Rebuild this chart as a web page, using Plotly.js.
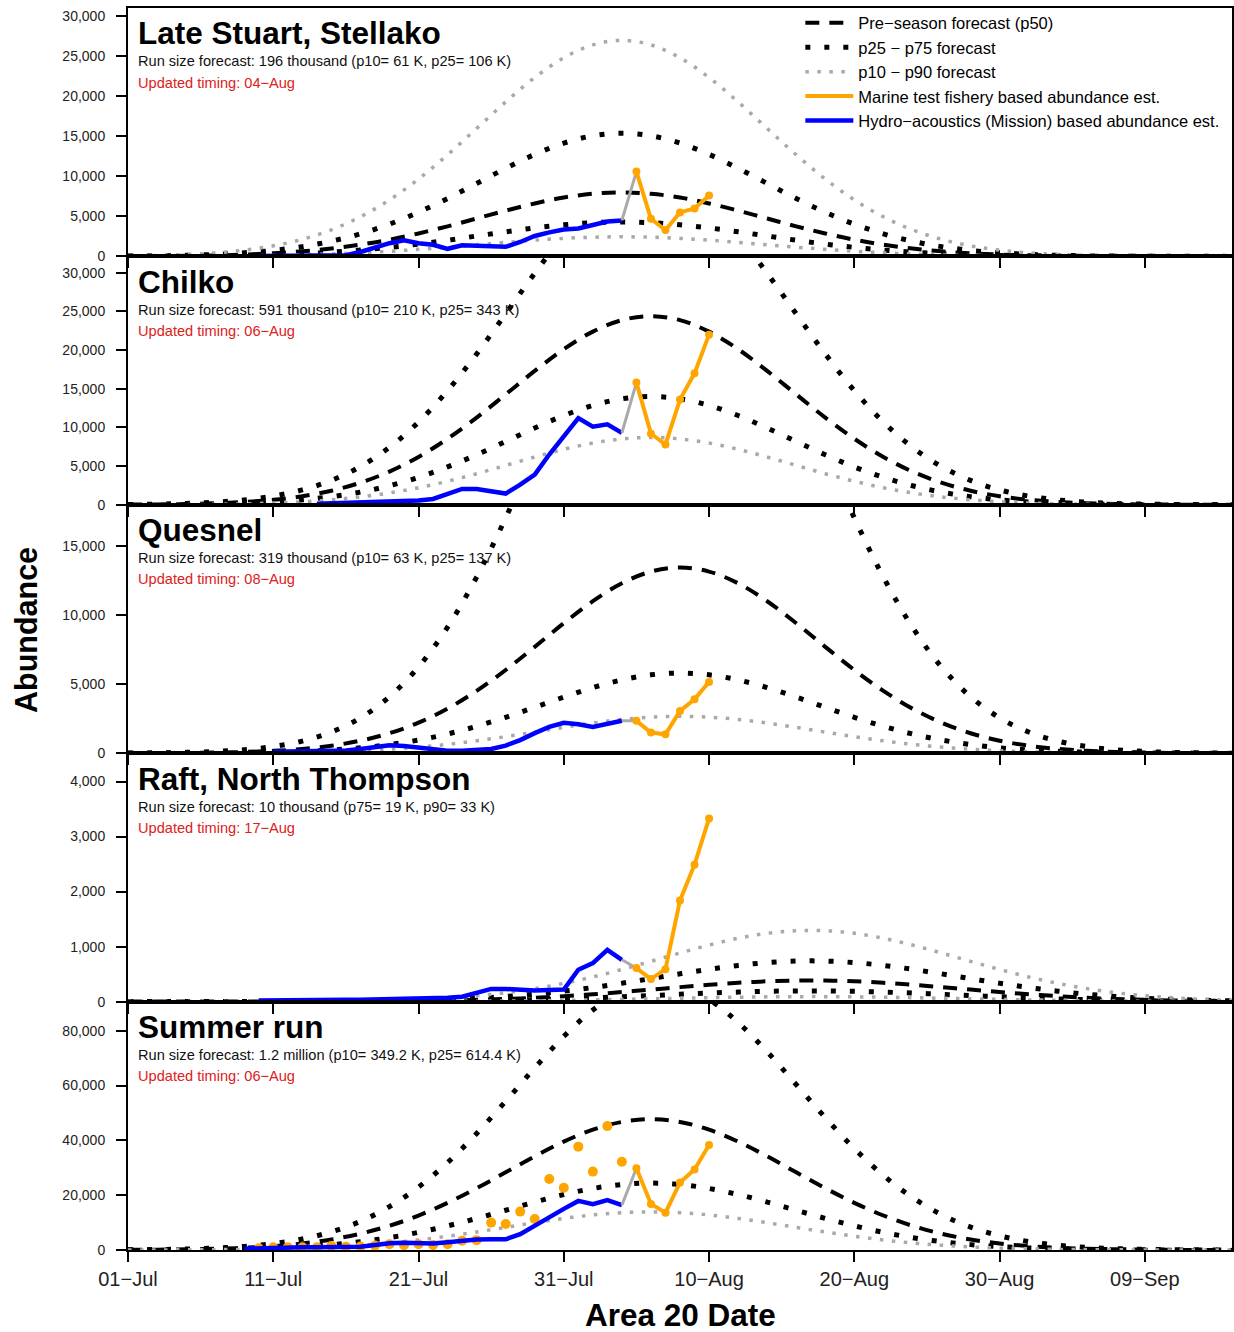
<!DOCTYPE html>
<html><head><meta charset="utf-8">
<script src="https://cdn.plot.ly/plotly-3.0.1.min.js"></script>
<style>html,body{margin:0;padding:0;background:#fff}</style>
</head><body><div id="chart" style="width:1234px;height:1332px"></div>
<script>
// ---------- text ----------
const panelNames = ["Late Stuart, Stellako", "Chilko", "Quesnel", "Raft, North Thompson", "Summer run"];
const runSizeTexts = [
  "Run size forecast: 196 thousand (p10= 61 K, p25= 106 K)",
  "Run size forecast: 591 thousand (p10= 210 K, p25= 343 K)",
  "Run size forecast: 319 thousand (p10= 63 K, p25= 137 K)",
  "Run size forecast: 10 thousand (p75= 19 K, p90= 33 K)",
  "Run size forecast: 1.2 million (p10= 349.2 K, p25= 614.4 K)"
];
const timingTexts = ["Updated timing: 04\u2212Aug", "Updated timing: 06\u2212Aug", "Updated timing: 08\u2212Aug", "Updated timing: 17\u2212Aug", "Updated timing: 06\u2212Aug"];
const legendNames = ["Pre\u2212season forecast (p50)", "p25 \u2212 p75 forecast", "p10 \u2212 p90 forecast", "Marine test fishery based abundance est.", "Hydro\u2212acoustics (Mission) based abundance est."];
const tickDays = [0, 10, 20, 30, 40, 50, 60, 70];
const tickLabels = ["01\u2212Jul", "11\u2212Jul", "21\u2212Jul", "31\u2212Jul", "10\u2212Aug", "20\u2212Aug", "30\u2212Aug", "09\u2212Sep"];

// ---------- forecast days (days after 01-Jul) ----------
const fcDays = [0,2,4,6,8,10,12,14,16,18,20,22,24,26,28,30,32,34,36,38,40,42,44,46,48,50,52,54,56,58,60,62,64,66,68,70,72,74,76];

// Late Stuart, Stellako
const lsP10 = [6,11,22,40,71,120,194,300,450,640,880,1150,1450,1750,2030,2250,2400,2450,2400,2250,2030,1750,1450,1150,880,640,450,300,194,120,71,40,22,11,6,3,1,1,0];
const lsP25 = [10,20,40,70,125,210,340,530,790,1125,1540,2020,2550,3075,3560,3950,4210,4300,4210,3950,3560,3075,2550,2020,1540,1125,790,530,340,210,125,70,40,20,10,5,2,1,0];
const lsP50 = [20,40,70,130,230,390,630,980,1470,2090,2870,3760,4740,5720,6620,7360,7830,8000,7830,7360,6620,5720,4740,3760,2870,2090,1470,980,630,390,230,130,70,40,20,10,5,2,1];
const lsP75 = [40,70,140,250,450,750,1220,1900,2820,4030,5520,7240,9120,11010,12750,14160,15080,15400,15080,14160,12750,11010,9120,7240,5520,4030,2820,1900,1220,750,450,250,140,70,40,20,10,5,2];
const lsP90 = [60,130,240,440,780,1320,2140,3320,4950,7060,9670,12700,15990,19310,22360,24830,26440,27000,26440,24830,22360,19310,15990,12700,9670,7060,4950,3320,2140,1320,780,440,240,130,60,30,14,6,3];
const lsBlueDays = [9,10,11,12,13,14,15,16,17,18,19,20,21,22,23,24,25,26,27,28,29,30,31,32,33,34];
const lsBlue = [50,50,60,60,70,80,150,550,1100,1650,2000,1650,1450,950,1400,1300,1200,1200,1800,2550,3000,3350,3500,3900,4350,4500];
const lsMarineDays = [35,36,37,38,39,40];
const lsMarine = [10600,4700,3300,5500,6000,7600];

// Chilko
const chP10 = [8,18,36,70,131,232,397,650,1020,1533,2206,3043,4021,5091,6174,7174,7985,8516,8700,8516,7985,7174,6174,5091,4021,3043,2206,1533,1020,650,397,232,131,70,36,18,8,4,2];
const chP25 = [13,29,58,113,210,374,638,1046,1641,2467,3550,4897,6471,8193,9934,11544,12849,13703,14000,13703,12849,11544,9934,8193,6471,4897,3550,2467,1641,1046,638,374,210,113,58,29,13,6,3];
const chP50 = [25,50,100,200,370,650,1110,1820,2860,4300,6190,8540,11280,14280,17310,20120,22390,23880,24400,23880,22390,20120,17310,14280,11280,8540,6190,4300,2860,1820,1110,650,370,200,100,50,25,11,5];
const chP75 = [41,86,174,339,633,1127,1924,3152,4946,7436,10702,14762,19505,24695,29945,34798,38731,41305,42200,41305,38731,34798,29945,24695,19505,14762,10702,7436,4946,3152,1924,1127,633,339,174,86,41,19,8];
const chBlueDays = [13,14,15,16,17,18,19,20,21,22,23,24,25,26,27,28,29,30,31,32,33,34];
const chBlue = [150,200,250,300,350,400,500,550,750,1400,2050,2050,1800,1450,2600,3900,6500,8900,11200,10100,10400,9300];
const chMarineDays = [35,36,37,38,39,40];
const chMarine = [15800,9200,7800,13600,17000,22000];

// Quesnel
const quP10 = [1,2,4,9,18,34,62,108,180,287,439,641,896,1196,1529,1869,2185,2442,2611,2670,2611,2442,2185,1869,1529,1196,896,641,439,287,180,108,62,34,18,9,4,2,1];
const quP25 = [2,4,9,19,38,73,134,234,390,624,953,1392,1945,2599,3322,4059,4746,5305,5672,5800,5672,5305,4746,4059,3322,2599,1945,1392,953,624,390,234,134,73,38,19,9,4,2];
const quP50 = [4,10,21,45,89,170,310,542,905,1446,2208,3226,4508,6022,7697,9407,10997,12294,13143,13440,13143,12294,10997,9407,7697,6022,4508,3226,2208,1446,905,542,310,170,89,45,21,10,4];
const quP75 = [12,28,60,126,252,481,878,1531,2557,4089,6243,9120,12745,17028,21763,26596,31092,34759,37160,38000,37160,34759,31092,26596,21763,17028,12745,9120,6243,4089,2557,1531,878,481,252,126,60,28,12];
const quBlueDays = [10,11,12,13,14,15,16,17,18,19,20,21,22,23,24,25,26,27,28,29,30,31,32,33,34];
const quBlue = [100,110,120,130,150,200,300,450,580,520,380,250,180,180,220,300,550,950,1450,1900,2200,2100,1900,2150,2350];
const quMarineDays = [35,36,37,38,39,40];
const quMarine = [2340,1500,1370,3060,3900,5160];

// Raft, North Thompson
const raP10 = [0,0,0,0,0,0,0,0,1,2,3,5,7,11,16,23,31,41,51,61,71,80,86,90,90,86,80,71,61,51,41,31,23,16,11,7,5,3,2];
const raP25 = [0,0,0,0,0,0,0,1,2,4,6,10,16,24,36,50,68,88,110,133,155,173,187,194,194,187,173,155,133,110,88,68,50,36,24,16,10,6,4];
const raP50 = [0,0,0,0,0,0,1,2,4,7,12,20,32,48,70,99,133,174,218,263,306,342,369,383,383,369,342,306,263,218,174,133,99,70,48,32,20,12,7];
const raP75 = [0,0,0,0,1,1,2,4,8,14,24,39,61,93,135,190,256,334,418,505,587,658,709,737,737,709,658,587,505,418,334,256,190,135,93,61,39,24,14];
const raP90 = [0,0,0,0,1,2,4,8,14,25,42,68,107,162,236,332,448,584,732,884,1028,1151,1241,1289,1289,1241,1151,1028,884,732,584,448,332,236,162,107,68,42,25];
const raBlueDays = [9,10,11,12,13,14,15,16,17,18,19,20,21,22,23,24,25,26,27,28,29,30,31,32,33,34];
const raBlue = [20,25,25,30,30,30,35,35,40,40,40,50,60,70,90,170,230,230,210,200,210,220,580,700,940,760];
const raMarineDays = [35,36,37,38,39,40];
const raMarine = [610,410,590,1840,2490,3330];

// Summer run
const suP10 = [16,34,67,128,235,411,694,1119,1733,2573,3667,5011,6568,8259,9961,11524,12789,13614,13900,13614,12789,11524,9961,8259,6568,5011,3667,2573,1733,1119,694,411,235,128,67,34,16,8,3];
const suP25 = [29,59,118,225,412,722,1218,1964,3043,4516,6437,8796,11529,14498,17485,20230,22450,23897,24400,23897,22450,20230,17485,14498,11529,8796,6437,4516,3043,1964,1218,722,412,225,118,59,29,13,6];
const suP50 = [56,116,231,440,805,1412,2380,3840,5948,8829,12583,17196,22538,28343,34182,39548,43889,46717,47700,46717,43889,39548,34182,28343,22538,17196,12583,8829,5948,3840,2380,1412,805,440,231,116,56,26,12];
const suP75 = [82,175,357,695,1302,2340,4017,6620,10452,15824,22952,31902,42500,54278,66417,77893,87555,94312,97373,96340,91358,83021,72306,60362,48292,37021,27203,19159,12929,8366,5187,3081,1755,956,501,251,120,56,24];
const suBlueDays = [8,9,10,11,12,13,14,15,16,17,18,19,20,21,22,23,24,25,26,27,28,29,30,31,32,33,34];
const suBlue = [500,700,900,1000,1000,1000,1000,1100,1200,1800,2500,2600,2500,2400,2800,3400,3800,3900,3900,5800,9000,12200,15000,17900,16700,18200,16400];
const suMarineDays = [35,36,37,38,39,40];
const suMarine = [29800,16800,13600,24600,29400,38300];
const suMarinePtDays = [9,10,11,12,13,14,15,16,17,18,19,20,21,22,23,24,25,26,27,28,29,30,31,32,33,34];
const suMarinePts = [600,1000,1000,1000,1000,1500,1200,1300,1600,2100,1800,2100,1800,2100,3400,3600,10000,9500,14000,11300,25900,22700,37700,28600,45200,32200];

// ---------- panel table ----------
const panels = [
  {p10: lsP10, p25: lsP25, p50: lsP50, p75: lsP75, p90: lsP90, bd: lsBlueDays, b: lsBlue, md: lsMarineDays, m: lsMarine},
  {p10: chP10, p25: chP25, p50: chP50, p75: chP75, p90: null, bd: chBlueDays, b: chBlue, md: chMarineDays, m: chMarine},
  {p10: quP10, p25: quP25, p50: quP50, p75: quP75, p90: null, bd: quBlueDays, b: quBlue, md: quMarineDays, m: quMarine},
  {p10: raP10, p25: raP25, p50: raP50, p75: raP75, p90: raP90, bd: raBlueDays, b: raBlue, md: raMarineDays, m: raMarine},
  {p10: suP10, p25: suP25, p50: suP50, p75: suP75, p90: null, bd: suBlueDays, b: suBlue, md: suMarineDays, m: suMarine, mpd: suMarinePtDays, mp: suMarinePts}
];
const yTop = [31050, 32120, 17975, 4516, 90615];
const yStep = [5000, 5000, 5000, 1000, 20000];

const BLACK = '#000000', GREY = '#a9a9a9', ORANGE = '#FFA500', BLUE = '#0000FF', RED = '#dd2020';
const styleP50 = {color: BLACK, width: 4, dash: '14px,10px', shape: 'spline'};
const styleP2575 = {color: BLACK, width: 5, dash: '5px,14px', shape: 'spline'};
const styleP1090 = {color: GREY, width: 3.5, dash: '3.5px,8.5px', shape: 'spline'};

const traces = [];
panels.forEach((p, i) => {
  const xa = i === 0 ? 'x' : 'x' + (i + 1);
  const ya = i === 0 ? 'y' : 'y' + (i + 1);
  const first = i === 0;
  const add = (t) => { t.xaxis = xa; t.yaxis = ya; t.hoverinfo = 'skip'; traces.push(t); };
  const fc = (vals, style, name, rank, show) => add({type: 'scatter', mode: 'lines', x: fcDays, y: vals, line: style, name: name, legendrank: rank, showlegend: show, legendgroup: name});
  fc(p.p50, styleP50, legendNames[0], 1, first);
  fc(p.p25, styleP2575, legendNames[1], 2, first);
  fc(p.p75, styleP2575, legendNames[1], 2, false);
  fc(p.p10, styleP1090, legendNames[2], 3, first);
  if (p.p90) fc(p.p90, styleP1090, legendNames[2], 3, false);
  if (p.mpd) add({type: 'scatter', mode: 'markers', x: p.mpd, y: p.mp, marker: {color: ORANGE, size: 10}, showlegend: false});
  add({type: 'scatter', mode: 'lines', x: p.bd, y: p.b, line: {color: BLUE, width: 4.5}, name: legendNames[4], legendrank: 5, showlegend: first, legendgroup: 'blue'});
  add({type: 'scatter', mode: 'lines', x: [p.bd[p.bd.length - 1], p.md[0]], y: [p.b[p.b.length - 1], p.m[0]], line: {color: GREY, width: 3}, showlegend: false});
  add({type: 'scatter', mode: 'lines', x: p.md, y: p.m, line: {color: ORANGE, width: 4}, name: legendNames[3], legendrank: 4, showlegend: first, legendgroup: 'orange'});
  add({type: 'scatter', mode: 'markers', x: p.md, y: p.m, marker: {color: ORANGE, size: 8}, showlegend: false});
});

const FONT = 'Arial, "Liberation Sans", Helvetica, sans-serif';
const layout = {
  width: 1234, height: 1332,
  margin: {l: 128, r: 2, t: 8, b: 82},
  paper_bgcolor: '#ffffff', plot_bgcolor: 'rgba(0,0,0,0)',
  font: {family: FONT, color: '#000', size: 14},
  showlegend: true,
  legend: {x: 0.609, xanchor: 'left', y: 1.002, yanchor: 'top', yref: 'paper',
           bgcolor: 'rgba(0,0,0,0)', font: {family: FONT, size: 16.5, color: '#000'},
           itemwidth: 48, traceorder: 'normal', tracegroupgap: 0},
  annotations: []
};
const plotTopPx = 8, plotH = 1242, panelH = plotH / 5;
const pxToPaper = (py) => (plotTopPx + plotH - py) / plotH;
for (let i = 0; i < 5; i++) {
  const s = i === 0 ? '' : String(i + 1);
  layout['xaxis' + s] = {
    domain: [0, 1], range: [0, 76], anchor: 'y' + s,
    tickmode: 'array', tickvals: tickDays, ticktext: tickLabels,
    ticks: 'outside', ticklen: 10, tickwidth: 2, tickcolor: '#000',
    showline: true, linewidth: 2, linecolor: '#000', mirror: true,
    showgrid: false, zeroline: false, showticklabels: i === 4,
    tickfont: {family: FONT, size: 20, color: '#222'}, ticklabelstandoff: 0
  };
  layout['yaxis' + s] = {
    domain: [0.8 - 0.2 * i, 1 - 0.2 * i], range: [0, yTop[i]], anchor: 'x' + s,
    tick0: 0, dtick: yStep[i], tickformat: ',d',
    ticks: 'outside', ticklen: 10, tickwidth: 2, tickcolor: '#000',
    showline: true, linewidth: 2, linecolor: '#000', mirror: true,
    showgrid: false, zeroline: false,
    tickfont: {family: FONT, size: 14, color: '#222'}, ticklabelstandoff: 8
  };
  const top = plotTopPx + panelH * i;
  layout.annotations.push(
    {xref: 'paper', yref: 'paper', x: 0.0075, y: pxToPaper(top + 25.5), xanchor: 'left', yanchor: 'middle', showarrow: false,
     text: '<b>' + panelNames[i] + '</b>', font: {family: FONT, size: 31.5, color: '#000'}},
    {xref: 'paper', yref: 'paper', x: 0.0075, y: pxToPaper(top + 53.5), xanchor: 'left', yanchor: 'middle', showarrow: false,
     text: runSizeTexts[i], font: {family: FONT, size: 14.6, color: '#111'}},
    {xref: 'paper', yref: 'paper', x: 0.0075, y: pxToPaper(top + 74.5), xanchor: 'left', yanchor: 'middle', showarrow: false,
     text: timingTexts[i], font: {family: FONT, size: 14.6, color: RED}}
  );
}
layout.annotations.push(
  {xref: 'paper', yref: 'paper', x: 0.5, y: pxToPaper(1315), xanchor: 'center', yanchor: 'middle', showarrow: false,
   text: '<b>Area 20 Date</b>', font: {family: FONT, size: 31.5, color: '#000'}},
  {xref: 'paper', yref: 'paper', x: (26 - 128) / 1104, y: pxToPaper(630), xanchor: 'center', yanchor: 'middle', showarrow: false,
   textangle: -90, text: '<b>Abundance</b>', font: {family: FONT, size: 30.5, color: '#000'}}
);

Plotly.newPlot('chart', traces, layout, {staticPlot: true, displayModeBar: false});
</script>
</body></html>
